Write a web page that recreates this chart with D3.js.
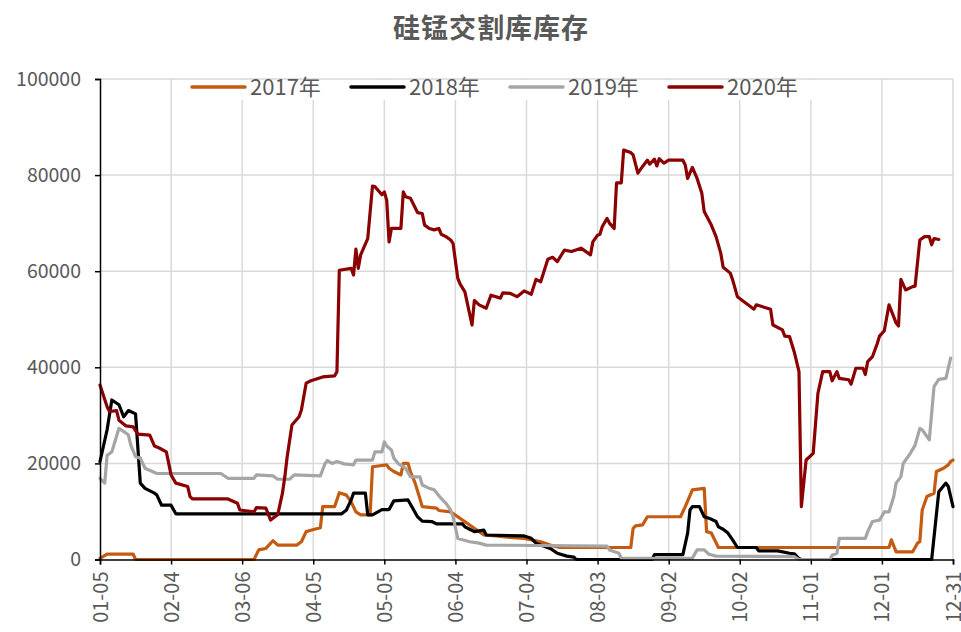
<!DOCTYPE html>
<html><head><meta charset="utf-8">
<script src="https://cdn.jsdelivr.net/npm/d3@7"></script>
<style>
body{margin:0;background:#fff;}
svg{display:block;font-family:"Noto Sans CJK SC","Noto Sans",sans-serif;}
</style>
</head><body>
<svg id="chart" width="961" height="632"></svg>
<script>
const title = "硅锰交割库库存";
const tickLabels = ["01-05","02-04","03-06","04-05","05-05","06-04","07-04","08-03","09-02","10-02","11-01","12-01","12-31"];
const yTicks = [0,20000,40000,60000,80000,100000];
const seriesNames = ["2017年","2018年","2019年","2020年"];
const seriesColors = ["#C55A11","#000000","#A5A5A5","#8B0000"];

const s2017 = [["01-05",250],["01-08",1100],["01-19",1100],["01-20",0],["03-11",0],["03-13",2000],["03-16",2300],["03-19",3900],["03-21",3000],["03-29",3000],["03-31",3700],["04-02",5800],["04-04",6100],["04-08",6600],["04-09",11000],["04-14",11000],["04-16",13900],["04-19",13400],["04-21",12000],["04-23",9900],["04-25",9300],["04-29",9300],["04-30",19300],["05-06",19700],["05-07",19000],["05-09",18300],["05-12",17600],["05-13",20000],["05-15",20000],["05-16",18300],["05-18",15900],["05-20",12700],["05-21",11000],["05-27",10700],["05-28",10200],["06-02",9900],["06-05",8900],["06-07",8200],["06-12",6500],["06-16",5100],["06-21",4900],["06-27",4600],["07-03",4400],["07-10",3700],["07-14",3000],["07-18",2500],["08-17",2500],["08-18",6500],["08-19",7000],["08-22",7200],["08-24",8900],["09-07",8900],["09-09",11000],["09-12",14500],["09-17",14800],["09-18",5800],["09-20",5500],["09-23",2500],["12-04",2500],["12-05",4100],["12-07",1600],["12-14",1600],["12-16",3400],["12-17",3700],["12-18",10300],["12-20",13100],["12-23",13800],["12-24",18300],["12-27",19000],["12-29",19700],["12-30",20400],["12-31",20700]];

const s2018 = [["01-05",20400],["01-08",27000],["01-10",33200],["01-13",32200],["01-15",29700],["01-17",31000],["01-20",30300],["01-22",15900],["01-24",14800],["01-28",13800],["01-29",13400],["01-31",11300],["02-04",11300],["02-06",9500],["04-17",9500],["04-19",10300],["04-21",12400],["04-22",13800],["04-27",13800],["04-28",9300],["04-30",9300],["05-04",10400],["05-07",10400],["05-09",12200],["05-15",12400],["05-19",8900],["05-21",8000],["05-25",7900],["05-27",7400],["06-07",7400],["06-08",6800],["06-10",6300],["06-12",5800],["06-16",6100],["06-17",5100],["07-03",4900],["07-06",4400],["07-08",3400],["07-14",2300],["07-17",1300],["07-21",700],["07-24",500],["07-25",0],["08-26",0],["08-27",1000],["09-08",1000],["09-10",5500],["09-11",10300],["09-12",11000],["09-15",11000],["09-17",8900],["09-19",8600],["09-22",7900],["09-23",6800],["09-25",6300],["09-27",5500],["09-29",4100],["10-01",2500],["10-09",2500],["10-10",1800],["10-18",1800],["10-23",1300],["10-25",1200],["10-27",200],["10-28",0],["12-22",0],["12-25",14100],["12-28",15900],["12-29",15200],["12-31",11000]];

const s2019 = [["01-05",16900],["01-07",15900],["01-08",21700],["01-10",22400],["01-13",27300],["01-16",26300],["01-17",25900],["01-18",23800],["01-20",21400],["01-22",21100],["01-24",19000],["01-29",17900],["02-25",17900],["02-28",16900],["03-11",16900],["03-12",17600],["03-19",17400],["03-21",16700],["03-26",16700],["03-28",17600],["04-08",17400],["04-10",20000],["04-11",20600],["04-13",20000],["04-15",20400],["04-18",19900],["04-22",19700],["04-23",20700],["04-30",20700],["05-01",22400],["05-04",22400],["05-05",24500],["05-06",23600],["05-08",22800],["05-09",21100],["05-11",19900],["05-14",19000],["05-16",17200],["05-20",17200],["05-21",15500],["05-24",14800],["05-26",14500],["05-29",12700],["05-31",11700],["06-02",10300],["06-03",8900],["06-05",4400],["06-07",4100],["06-10",3700],["06-14",3400],["06-17",3000],["08-07",2800],["08-08",2000],["08-12",1300],["08-13",250],["09-12",250],["09-14",2000],["09-17",2000],["09-19",1100],["09-22",700],["10-25",600],["10-27",0],["11-09",0],["11-10",900],["11-12",1300],["11-13",4400],["11-24",4400],["11-25",5800],["11-27",7900],["11-30",8200],["12-02",9900],["12-04",9900],["12-06",13100],["12-07",15900],["12-09",17200],["12-10",20000],["12-13",22100],["12-15",23800],["12-17",27300],["12-18",27000],["12-21",24900],["12-23",36000],["12-25",37500],["12-28",37700],["12-30",41900]];

const s2020 = [["01-05",36300],["01-08",31800],["01-09",30800],["01-12",31000],["01-13",29000],["01-16",27800],["01-19",27600],["01-21",26100],["01-26",25900],["01-28",23600],["01-30",23200],["02-02",22400],["02-04",17600],["02-06",15900],["02-11",15200],["02-12",13100],["02-13",12600],["02-28",12600],["03-04",11700],["03-05",10300],["03-11",9900],["03-12",10800],["03-16",10700],["03-18",8200],["03-19",8600],["03-21",9300],["03-23",13800],["03-24",17200],["03-25",21400],["03-27",28000],["03-30",29700],["03-31",31100],["04-02",36700],["04-04",37200],["04-09",38000],["04-14",38200],["04-15",39100],["04-16",60200],["04-21",60600],["04-22",59200],["04-23",64600],["04-24",60600],["04-25",63400],["04-28",66800],["04-30",77700],["05-01",77600],["05-04",75900],["05-05",76500],["05-06",74800],["05-07",66100],["05-08",68900],["05-12",68900],["05-13",76500],["05-14",75500],["05-16",75200],["05-19",72200],["05-21",72000],["05-22",69600],["05-24",68900],["05-26",68600],["05-28",68900],["05-29",67700],["05-31",67200],["06-02",66500],["06-03",65800],["06-05",58500],["06-06",57300],["06-08",55700],["06-11",48800],["06-12",53900],["06-14",53000],["06-17",52300],["06-19",55000],["06-23",54400],["06-24",55500],["06-27",55400],["06-30",54700],["07-03",55900],["07-06",55200],["07-08",58300],["07-10",57800],["07-13",62500],["07-15",62900],["07-17",62000],["07-20",64400],["07-23",64100],["07-27",64800],["07-31",63400],["08-01",66100],["08-03",67500],["08-04",67700],["08-05",69300],["08-07",71000],["08-08",70000],["08-10",68900],["08-11",78400],["08-13",78400],["08-14",85200],["08-17",84700],["08-18",84200],["08-20",80400],["08-22",81800],["08-24",83100],["08-25",82300],["08-27",83300],["08-28",81900],["08-29",83400],["08-31",82500],["09-02",83100],["09-08",83100],["09-09",82100],["09-10",79300],["09-12",81600],["09-14",79300],["09-16",76200],["09-17",72400],["09-20",69600],["09-22",67200],["09-24",63700],["09-25",60800],["09-28",59600],["09-29",58200],["10-01",54700],["10-08",52100],["10-09",53000],["10-15",52100],["10-16",48800],["10-20",47800],["10-21",46500],["10-23",46400],["10-25",43200],["10-27",39100],["10-28",11000],["10-30",20700],["11-02",22100],["11-04",34600],["11-06",39100],["11-09",39100],["11-10",37200],["11-12",39100],["11-13",37700],["11-17",37400],["11-18",36500],["11-20",39800],["11-23",39800],["11-24",38500],["11-25",41200],["11-27",42200],["11-29",44900],["11-30",46500],["12-02",47600],["12-04",53000],["12-06",50500],["12-07",49200],["12-08",48600],["12-09",58300],["12-11",56100],["12-14",56800],["12-15",56900],["12-17",66500],["12-19",67200],["12-21",67200],["12-22",65500],["12-23",66800],["12-25",66600]];

const allSeries = [s2017, s2018, s2019, s2020];

const parse = d3.timeParse("%m-%d");
const fmt = d3.timeFormat("%m-%d");
const svg = d3.select("#chart");
const mLeft = 100, mRight = 953, mTop = 79, mBottom = 559.5;

const x = d3.scaleTime().domain([parse(tickLabels[0]), parse(tickLabels[tickLabels.length-1])]).range([mLeft, mRight]);
const y = d3.scaleLinear().domain([0, 100000]).range([mBottom, mTop]);
const textColor = "#595959";

// title
svg.append("text").attr("x", 491).attr("y", 38).attr("text-anchor", "middle")
  .attr("fill", textColor).style("font-size", "27px").style("font-weight", "bold")
  .style("letter-spacing", "1px").text(title);

// grid
const grid = svg.append("g");
grid.selectAll(".hg").data(yTicks.filter(d => d > 0)).join("line")
  .attr("x1", mLeft).attr("x2", mRight).attr("y1", d => y(d)).attr("y2", d => y(d))
  .attr("stroke", "#D9D9D9").attr("stroke-width", 1.5);
grid.selectAll(".vg").data(tickLabels.slice(1)).join("line")
  .attr("x1", d => x(parse(d))).attr("x2", d => x(parse(d))).attr("y1", mTop).attr("y2", mBottom)
  .attr("stroke", "#D9D9D9").attr("stroke-width", 1.5);

// lines
const line = d3.line().x(d => x(parse(d[0]))).y(d => y(d[1]));
svg.append("g").selectAll("path").data(allSeries).join("path")
  .attr("d", d => line(d)).attr("fill", "none")
  .attr("stroke", (d, i) => seriesColors[i]).attr("stroke-width", 3.2)
  .attr("stroke-linejoin", "round").attr("stroke-linecap", "round");

// axes
const yAxis = svg.append("g").attr("transform", `translate(${mLeft},0)`)
  .call(d3.axisLeft(y).tickValues(yTicks).tickSize(5).tickPadding(14).tickFormat(d3.format("d")));
yAxis.select(".domain").attr("stroke", "#000").attr("stroke-width", 1.5);
yAxis.selectAll(".tick line").attr("stroke", "#000").attr("stroke-width", 1.5);
yAxis.selectAll("text").attr("fill", textColor).style("font-size", "19.5px").style("font-family", "'Noto Sans CJK SC', sans-serif");

const xAxis = svg.append("g").attr("transform", `translate(0,${mBottom})`)
  .call(d3.axisBottom(x).tickValues(tickLabels.map(parse)).tickSize(5).tickFormat(fmt));
xAxis.select(".domain").attr("stroke", "#000").attr("stroke-width", 1.5);
xAxis.selectAll(".tick line").attr("stroke", "#000").attr("stroke-width", 1.5);
xAxis.selectAll("text").attr("fill", textColor).style("font-size", "20px").style("font-family", "'Noto Sans CJK SC', sans-serif")
  .attr("transform", "rotate(-90)").attr("y", 0).attr("x", -12).attr("dy", "0.35em")
  .style("text-anchor", "end");

// legend
const legendX = [192, 351, 510, 669];
const lg = svg.append("g");
lg.append("rect").attr("x", 186).attr("y", 80).attr("width", 626).attr("height", 20).attr("fill", "#fff");
seriesNames.forEach((n, i) => {
  lg.append("line").attr("x1", legendX[i]).attr("x2", legendX[i] + 53).attr("y1", 87).attr("y2", 87)
    .attr("stroke", seriesColors[i]).attr("stroke-width", 3.5).attr("stroke-linecap", "round");
  lg.append("text").attr("x", legendX[i] + 58).attr("y", 95).attr("fill", textColor)
    .style("font-size", "22px").text(n);
});
</script>
</body></html>
